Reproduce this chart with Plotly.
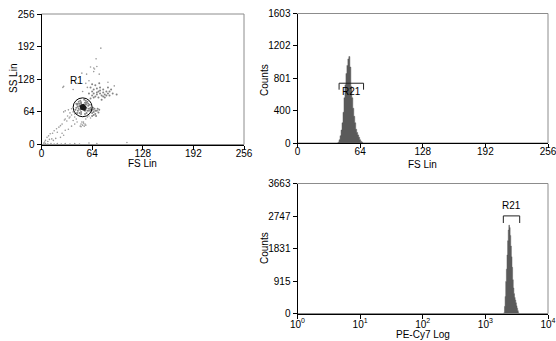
import numpy as np
import plotly.graph_objects as go

# ---------------- data ----------------
# Scatter: FS Lin vs SS Lin (gated events)
core_fs = [51, 52, 53, 54, 52, 53, 51, 53, 54, 52, 53, 52, 50, 55, 51, 54]
core_ss = [72, 73, 75, 72, 70, 71, 71, 73, 74, 76, 77, 74, 74, 73, 76, 69]

dense_fs = [44, 45, 46, 47, 48, 48, 57, 58, 59, 60, 56, 49, 55, 46, 43, 61, 58, 45, 62, 57, 50, 54, 47, 60, 44, 59, 62, 50, 56, 48, 57, 46,
            49, 50, 55, 56, 50, 55, 49, 56,
            64, 66, 68, 65, 67, 70, 72, 66, 69, 64, 71, 68, 73, 63, 65,
            62, 64, 66, 68, 70, 72, 74, 76, 78, 80, 82, 84, 86, 88, 66, 70, 74, 78, 64, 72, 76, 80, 68, 62, 84, 90, 95, 86, 60, 74, 70, 78, 82, 66, 64, 73]
dense_ss = [72, 78, 66, 84, 62, 80, 82, 66, 76, 70, 86, 86, 60, 74, 68, 78, 84, 62, 72, 62, 60, 88, 70, 66, 80, 80, 68, 83, 79, 76, 71, 80,
            68, 80, 66, 78, 64, 82, 76, 70,
            62, 64, 60, 68, 70, 66, 63, 58, 56, 56, 70, 66, 68, 66, 72,
            90, 96, 100, 94, 98, 104, 100, 96, 102, 98, 104, 100, 96, 108, 108, 110, 112, 108, 104, 92, 88, 92, 116, 112, 112, 100, 98, 104, 100, 106, 102, 94, 96, 92, 118, 120]

sparse_fs = [75, 69, 66, 62, 66, 73, 57, 51, 28, 27, 70, 67, 60, 56, 84, 92, 46, 40, 58, 52,
             30, 36, 40, 24, 19, 11, 7, 5, 13, 24, 28, 32, 35, 38, 42, 40, 36, 33, 29, 28, 30, 38, 34, 42, 44, 22, 26, 16, 14, 9, 20, 18, 8, 3, 4, 10, 15, 30, 26, 34, 45, 42, 38,
             49, 50, 51, 52, 53, 54, 55, 50, 53, 56,
             5, 8, 12, 16, 20, 25, 30, 36, 42, 48, 108, 60, 70, 3,
             58, 60, 56, 62]
sparse_ss = [189, 168, 150, 152, 143, 138, 138, 140, 114, 112, 153, 148, 125, 120, 122, 115, 120, 108, 112, 104,
             50, 54, 47, 37, 31, 21, 14, 8, 11, 14, 18, 46, 52, 58, 60, 64, 62, 56, 48, 64, 66, 70, 68, 54, 50, 34, 40, 27, 22, 17, 24, 12, 6, 3, 5, 10, 8, 28, 22, 30, 44, 40, 36,
             36, 40, 44, 38, 42, 36, 40, 35, 44, 38,
             2, 1, 2, 1, 2, 1, 2, 1, 2, 1, 4, 3, 2, 1,
             54, 56, 50, 52]

# Gate R1 (ellipse in data units): centre and radii
r1_center = [52, 73]
r1_radius = [12, 18.5]
r1_label_pos = [44, 126]

# Histogram 1: FS Lin channel counts
fs_channels = [41, 42, 43, 44, 45, 46, 47, 48, 49, 50, 51, 52, 53, 54, 55, 56, 57, 58, 59, 60, 61, 62, 63, 64, 65, 66, 67]
fs_counts = [0, 10, 40, 90, 160, 250, 380, 560, 720, 860, 960, 1040, 1070, 940, 700, 560, 430, 330, 250, 170, 130, 100, 70, 40, 20, 10, 0]
r21_fs_gate = [42.5, 67.5]
r21_fs_y = [740, 660]

# Histogram 2: PE-Cy7 Log (bin centres in decades)
pe_decades = [3.29, 3.30, 3.31, 3.32, 3.33, 3.34, 3.35, 3.36, 3.37, 3.38, 3.39, 3.40, 3.41, 3.42, 3.43, 3.44,
              3.45, 3.46, 3.47, 3.48, 3.49, 3.50, 3.51, 3.52, 3.53, 3.54]
pe_counts = [0, 20, 200, 480, 900, 1250, 1650, 2050, 2350, 2490, 2420, 2200, 1900, 1600, 1300, 950,
             720, 560, 450, 380, 300, 220, 150, 80, 20, 0]
r21_pe_gate = [1936, 3532]
r21_pe_y = [2750, 2550]

lin_ticks = [0, 64, 128, 192, 256]
fs_count_ticks = ["0", "400", "801", "1202", "1603"]
fs_count_max = 1603
pe_count_ticks = ["0", "915", "1831", "2747", "3663"]
pe_count_max = 3663
log_tickvals = [1, 10, 100, 1000, 10000]
log_ticktext = ["10<sup>0</sup>", "10<sup>1</sup>", "10<sup>2</sup>", "10<sup>3</sup>", "10<sup>4</sup>"]

# ---------------- figure ----------------
W, H = 556, 341
FONT = dict(family="Liberation Sans, Arial, sans-serif", size=10, color="#000000")
HIST_COLOR = "#5a5a5a"

def px_x(a, b):
    return [a / W, b / W]

def px_y(top, bottom):
    return [1 - bottom / H, 1 - top / H]

fig = go.Figure()

# scatter
fig.add_trace(go.Scatter(x=sparse_fs, y=sparse_ss, mode="markers",
                         marker=dict(size=1.6, color="#9a9a9a", line=dict(width=0)),
                         xaxis="x", yaxis="y", showlegend=False))
fig.add_trace(go.Scatter(x=dense_fs, y=dense_ss, mode="markers",
                         marker=dict(size=2, color="#858585", line=dict(width=0)),
                         xaxis="x", yaxis="y", showlegend=False))
fig.add_trace(go.Scatter(x=core_fs, y=core_ss, mode="markers",
                         marker=dict(size=3, color="#1a1a1a", line=dict(width=0)),
                         xaxis="x", yaxis="y", showlegend=False))

# histogram FS
fig.add_trace(go.Scatter(x=fs_channels, y=fs_counts, mode="lines", line_shape="hvh",
                         line=dict(color=HIST_COLOR, width=0.5), fill="tozeroy", fillcolor=HIST_COLOR,
                         xaxis="x2", yaxis="y2", showlegend=False))

# histogram PE-Cy7
pe_values = [10 ** d for d in pe_decades]
fig.add_trace(go.Scatter(x=pe_values, y=pe_counts, mode="lines", line_shape="hvh",
                         line=dict(color=HIST_COLOR, width=0.5), fill="tozeroy", fillcolor=HIST_COLOR,
                         xaxis="x3", yaxis="y3", showlegend=False))

axis_common = dict(showgrid=False, zeroline=False, showline=True, linecolor="#000000", linewidth=1,
                   ticks="outside", ticklen=4, tickcolor="#000000", tickfont=FONT, fixedrange=True,
                   automargin=False)
xaxis_extra = dict(ticklabelstandoff=-5, ticklabeloverflow="allow")

fig.update_layout(
    width=W, height=H, margin=dict(l=0, r=0, t=0, b=0, autoexpand=False),
    paper_bgcolor="white", plot_bgcolor="white", font=FONT, showlegend=False,
    xaxis=dict(domain=px_x(41.5, 244), range=[0, 256], tickvals=lin_ticks, anchor="y",
               **axis_common, **xaxis_extra),
    yaxis=dict(domain=px_y(14, 144.5), range=[0, 256], tickvals=lin_ticks, anchor="x", **axis_common),
    xaxis2=dict(domain=px_x(297.5, 548), range=[0, 256], tickvals=lin_ticks, anchor="y2",
                **axis_common, **xaxis_extra),
    yaxis2=dict(domain=px_y(13.5, 143), range=[0, fs_count_max],
                tickvals=[fs_count_max * i / 4 for i in range(5)], ticktext=fs_count_ticks, anchor="x2",
                **axis_common),
    xaxis3=dict(domain=px_x(297.5, 548), type="log", range=[0, 4], tickvals=log_tickvals,
                ticktext=log_ticktext, anchor="y3", **axis_common,
                ticklabelstandoff=-3, ticklabeloverflow="allow"),
    yaxis3=dict(domain=px_y(183.5, 313.5), range=[0, pe_count_max],
                tickvals=[pe_count_max * i / 4 for i in range(5)], ticktext=pe_count_ticks, anchor="x3",
                **axis_common),
)

shapes = []
# grey frames (top & right edges)
for xa, ya in [("x", "y"), ("x2", "y2"), ("x3", "y3")]:
    shapes.append(dict(type="rect", xref=f"{xa} domain", yref=f"{ya} domain", x0=0, x1=1, y0=0, y1=1,
                       line=dict(color="#8c8c8c", width=1), layer="below"))

# R1 gate
shapes.append(dict(type="circle", xref="x", yref="y",
                   x0=r1_center[0] - r1_radius[0], x1=r1_center[0] + r1_radius[0],
                   y0=r1_center[1] - r1_radius[1], y1=r1_center[1] + r1_radius[1],
                   line=dict(color="#000000", width=1)))

# R21 brackets (shape coordinates in data values)
def bracket(xref, yref, xs, ys):
    return dict(type="path", xref=xref, yref=yref,
                path=f"M {xs[0]},{ys[1]} L {xs[0]},{ys[0]} L {xs[1]},{ys[0]} L {xs[1]},{ys[1]}",
                line=dict(color="#222222", width=1))

shapes.append(bracket("x2", "y2", r21_fs_gate, r21_fs_y))
shapes.append(bracket("x3", "y3", r21_pe_gate, r21_pe_y))
fig.update_layout(shapes=shapes)

def title_ann(text, x_px, y_px, angle=0):
    return dict(text=text, x=x_px / W, y=1 - y_px / H, xref="paper", yref="paper", showarrow=False,
                font=FONT, textangle=angle, xanchor="center", yanchor="middle")

annotations = [
    dict(text="R1", x=r1_label_pos[0], y=r1_label_pos[1], xref="x", yref="y", showarrow=False, font=FONT),
    dict(text="R21", x=sum(r21_fs_gate) / 2, y=r21_fs_y[0], xref="x2", yref="y2", showarrow=False,
         font=FONT, yanchor="top", yshift=-1),
    # annotations on a log axis use log10 positions
    dict(text="R21", x=np.log10(np.sqrt(r21_pe_gate[0] * r21_pe_gate[1])), y=r21_pe_y[0], xref="x3", yref="y3",
         showarrow=False, font=FONT, yanchor="bottom", yshift=3),
    title_ann("FS Lin", 142.5, 163),
    title_ann("SS Lin", 13, 79, -90),
    title_ann("FS Lin", 422.5, 164),
    title_ann("Counts", 264, 80, -90),
    title_ann("PE-Cy7 Log", 422.5, 334),
    title_ann("Counts", 264, 248, -90),
]
fig.update_layout(annotations=annotations)

fig.write_html("out.html", post_script="document.body.style.margin='0';",
               config={"displayModeBar": False})
